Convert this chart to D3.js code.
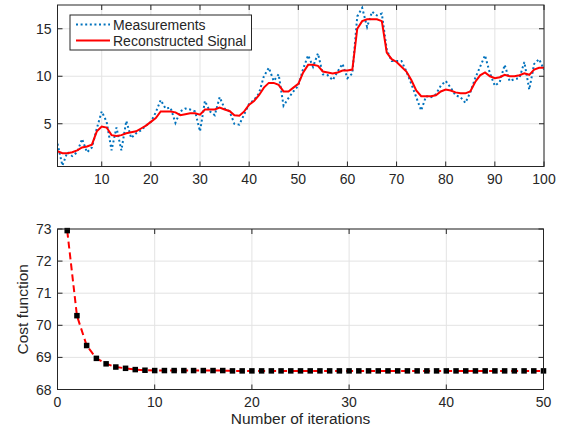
<!DOCTYPE html>
<html><head><meta charset="utf-8">
<script src="https://cdn.jsdelivr.net/npm/d3@7/dist/d3.min.js"></script>
<style>body{margin:0;background:#fff}svg{display:block}text{font-family:"Liberation Sans",Arial,sans-serif;fill:#262626}</style>
</head><body>
<script>
const measurements = [2.9,0.6,2.0,1.6,2.0,3.4,2.0,2.5,4.5,6.3,5.2,2.2,4.6,2.2,5.3,3.5,4.0,4.3,4.8,5.2,
6.2,7.5,6.6,6.7,5.1,6.3,6.6,6.5,6.3,4.2,7.4,6.3,5.9,7.8,6.6,6.3,5.0,4.9,6.0,7.1,
7.5,8.2,10.0,10.9,9.5,10.2,6.9,7.7,8.4,9.0,10.8,12.2,11.0,12.4,10.2,10.1,9.6,10.5,11.3,9.8,
10.3,16.3,17.2,15.2,16.8,16.4,16.6,12.8,11.6,11.6,11.6,10.5,9.2,7.8,6.4,7.9,7.8,8.1,9.0,9.5,
8.8,8.0,7.8,7.2,8.3,9.8,11.0,12.2,10.3,9.0,9.4,11.2,9.5,9.7,9.8,11.5,8.6,11.3,11.8,10.7];
const reconstructed = [2.1,1.9,1.9,2.0,2.2,2.5,2.6,2.8,4.2,4.7,4.6,3.8,3.7,3.8,4.0,4.1,4.2,4.5,4.8,5.2,
5.6,6.3,6.3,6.3,6.2,5.9,6.0,6.1,6.1,5.95,6.5,6.5,6.5,6.7,6.5,6.35,5.9,5.85,6.3,7.0,
7.4,8.0,8.8,9.3,9.3,9.1,8.4,8.4,8.8,9.2,10.4,11.2,11.2,11.1,10.5,10.4,10.3,10.4,10.6,10.6,
10.7,15.0,15.8,16.0,16.0,16.0,15.8,12.5,11.8,11.5,11.0,10.5,9.6,8.5,7.9,7.9,7.9,8.0,8.4,8.6,
8.5,8.3,8.2,8.2,8.4,9.4,10.1,10.4,10.0,9.8,9.9,10.15,10.0,10.0,10.1,10.3,10.15,10.7,10.9,10.9];
const sampleIndex = d3.range(1, 101);
const topXTicks = [10,20,30,40,50,60,70,80,90,100];
const topYTicks = [5,10,15];
const legendLabels = ["Measurements","Reconstructed Signal"];

const cost = [72.95,70.3,69.37,68.97,68.8,68.7,68.66,68.62,68.6,68.59,
68.59,68.59,68.59,68.59,68.59,68.59,68.59,68.58,68.58,68.58,
68.58,68.58,68.58,68.58,68.58,68.58,68.58,68.58,68.58,68.58,
68.58,68.58,68.58,68.58,68.58,68.58,68.58,68.58,68.58,68.58,
68.58,68.58,68.58,68.58,68.58,68.58,68.58,68.58,68.58,68.58];
const iterations = d3.range(1, 51);
const botXTicks = [0,10,20,30,40,50];
const botYTicks = [68,69,70,71,72,73];
const xLabel = "Number of iterations";
const yLabel = "Cost function";

const W = 562, H = 428;
const svg = d3.select("body").append("svg").attr("width", W).attr("height", H);
const AX = "#262626", GRID = "#e3e3e3";

function panel(x, y, xTicks, yTicks, idp) {
  const [x0,x1] = x.range(), [y0,y1] = y.range();
  const g = svg.append("g");
  g.selectAll(".gx").data(xTicks).join("line")
    .attr("x1", d=>x(d)).attr("x2", d=>x(d)).attr("y1", y1).attr("y2", y0)
    .attr("stroke", GRID).attr("stroke-width", 1);
  g.selectAll(".gy").data(yTicks).join("line")
    .attr("x1", x0).attr("x2", x1).attr("y1", d=>y(d)).attr("y2", d=>y(d))
    .attr("stroke", GRID).attr("stroke-width", 1);
  svg.append("clipPath").attr("id", idp).append("rect")
    .attr("x", x0).attr("y", y1).attr("width", x1-x0).attr("height", y0-y1);
  return g;
}
function frame(x, y, xTicks, yTicks, fmtX, fmtY) {
  const [x0,x1] = x.range(), [y0,y1] = y.range();
  const g = svg.append("g");
  const tl = 5;
  g.selectAll(".tb").data(xTicks).join("line").attr("x1", d=>x(d)).attr("x2", d=>x(d))
    .attr("y1", y0).attr("y2", y0-tl).attr("stroke", AX);
  g.selectAll(".tt").data(xTicks).join("line").attr("x1", d=>x(d)).attr("x2", d=>x(d))
    .attr("y1", y1).attr("y2", y1+tl).attr("stroke", AX);
  g.selectAll(".tlft").data(yTicks).join("line").attr("x1", x0).attr("x2", x0+tl)
    .attr("y1", d=>y(d)).attr("y2", d=>y(d)).attr("stroke", AX);
  g.selectAll(".trt").data(yTicks).join("line").attr("x1", x1).attr("x2", x1-tl)
    .attr("y1", d=>y(d)).attr("y2", d=>y(d)).attr("stroke", AX);
  g.append("rect").attr("x", x0).attr("y", y1).attr("width", x1-x0).attr("height", y0-y1)
    .attr("fill", "none").attr("stroke", AX).attr("stroke-width", 1);
  g.selectAll(".lx").data(xTicks).join("text").attr("x", d=>x(d)).attr("y", y0+17)
    .attr("text-anchor", "middle").attr("font-size", 14).text(fmtX);
  g.selectAll(".ly").data(yTicks).join("text").attr("x", x0-6).attr("y", d=>y(d)+5)
    .attr("text-anchor", "end").attr("font-size", 14).text(fmtY);
}

// ---------- top panel ----------
const xT = d3.scaleLinear().domain([1,100]).range([57.5,544]);
const yT = d3.scaleLinear().domain([0.5,17.5]).range([166.5,5]);
panel(xT, yT, topXTicks, topYTicks, "clipTop");
const lineT = (arr) => d3.line().x((d,i)=>xT(sampleIndex[i])).y(d=>yT(d))(arr);
svg.append("path").attr("d", lineT(measurements)).attr("clip-path","url(#clipTop)")
  .attr("fill","none").attr("stroke","#0072BD").attr("stroke-width",2).attr("stroke-dasharray","2,2.6");
svg.append("path").attr("d", lineT(reconstructed)).attr("clip-path","url(#clipTop)")
  .attr("fill","none").attr("stroke","#FF0000").attr("stroke-width",2);
frame(xT, yT, topXTicks, topYTicks, d=>d, d=>d);

// legend
const lg = svg.append("g");
lg.append("rect").attr("x",70).attr("y",15).attr("width",181.5).attr("height",35)
  .attr("fill","#fff").attr("stroke",AX).attr("stroke-width",1);
lg.append("line").attr("x1",76).attr("x2",110).attr("y1",24.5).attr("y2",24.5)
  .attr("stroke","#0072BD").attr("stroke-width",2).attr("stroke-dasharray","2,2.6");
lg.append("line").attr("x1",76).attr("x2",110).attr("y1",40.5).attr("y2",40.5)
  .attr("stroke","#FF0000").attr("stroke-width",2);
lg.selectAll(".lt").data(legendLabels).join("text").attr("x",113).attr("y",(d,i)=>29.5+i*16)
  .attr("font-size",14).text(d=>d);

// ---------- bottom panel ----------
const xB = d3.scaleLinear().domain([0,50]).range([57.5,543.5]);
const yB = d3.scaleLinear().domain([68,73]).range([389.5,229]);
panel(xB, yB, botXTicks, botYTicks, "clipBot");
svg.append("path").attr("d", d3.line().x((d,i)=>xB(iterations[i])).y(d=>yB(d))(cost))
  .attr("fill","none").attr("stroke","#FF0000").attr("stroke-width",2).attr("stroke-dasharray","7,4");
svg.selectAll(".mk").data(cost).join("rect")
  .attr("x",(d,i)=>xB(iterations[i])-2.75).attr("y",d=>yB(d)-2.75)
  .attr("width",5.5).attr("height",5.5).attr("fill","#000");
frame(xB, yB, botXTicks, botYTicks, d=>d, d=>d);
svg.append("text").attr("x",(57.5+543.5)/2).attr("y",424).attr("text-anchor","middle")
  .attr("font-size",15.5).text(xLabel);
svg.append("text").attr("transform",`translate(28,${(229+389.5)/2}) rotate(-90)`)
  .attr("text-anchor","middle").attr("font-size",15.5).text(yLabel);
</script>
</body></html>
